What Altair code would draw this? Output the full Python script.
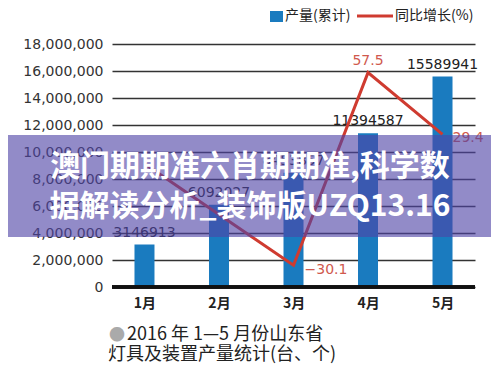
import altair as alt
import pandas as pd

months = ["1月", "2月", "3月", "4月", "5月"]
production = [3146913, 6092027, 8453857, 11394587, 15589941]
production_labels = ["3146913", "6092027", "8453857", "11394587", "15589941"]
growth = [16.0, -7.0, -30.1, 57.5, 29.4]
growth_labels = ["", "", "−30.1", "57.5", "29.4"]
y_ticks = [0, 2000000, 4000000, 6000000, 8000000, 10000000, 12000000, 14000000, 16000000, 18000000]

legend_bar = "产量(累计)"
legend_line = "同比增长(%)"
banner_lines = ["澳门期期准六肖期期准,科学数", "据解读分析_装饰版UZQ13.16"]
footer_bullet = "●"
footer_lines = ["2016 年 1—5 月份山东省", "灯具及装置产量统计(台、个)"]

df = pd.DataFrame({
    "month": months,
    "production": production,
    "plabel": production_labels,
    "growth": growth,
    "glabel": growth_labels,
})

BLUE = "#1a7bbf"
RED = "#cf3b30"
RED_TXT = "#d0594e"
CJK = "Noto Sans CJK SC"
NUM = "DejaVu Sans"

xenc = alt.X(
    "month:N", sort=months,
    scale=alt.Scale(type="point", padding=0.436),
    axis=alt.Axis(title=None, labelFont=CJK, labelFontSize=14, labelColor="#222",
                  labelFontWeight="bold", labelPadding=9, ticks=False, domain=False,
                  labelAngle=0, grid=False),
)
yaxis = alt.Axis(values=y_ticks, labelExpr="format(datum.value, ',')", title=None, grid=True,
                 gridColor="#333", gridWidth=1.6, ticks=False, domain=False, labelFont=NUM,
                 labelFontSize=14, labelColor="#333", labelPadding=9)
yscale = alt.Scale(domain=[0, 18000000], nice=False)
yenc = alt.Y("production:Q", scale=yscale, axis=yaxis)
gscale = alt.Scale(domain=[-40, 70.5], nice=False)

base = alt.Chart(df)

bars = base.mark_bar(size=20, color=BLUE).encode(x=xenc, y=yenc)
zero = base.transform_calculate(production="0").mark_rule(color="#111", strokeWidth=3).encode(y=yenc)
blabels = base.mark_text(baseline="bottom", dy=-5, font=NUM, fontSize=14, color="#222").encode(
    x=xenc, y=yenc, text="plabel:N")
left = alt.layer(bars, zero, blabels)

gy = alt.Y("growth:Q", scale=gscale, axis=None)
line = base.mark_line(color=RED, strokeWidth=3).encode(x=xenc, y=gy)
glab_top = base.transform_filter(alt.datum.month == "4月").mark_text(
    baseline="bottom", dy=-5, font=NUM, fontSize=14, color=RED_TXT).encode(x=xenc, y=gy, text="glabel:N")
glab_low = base.transform_filter(alt.datum.month == "3月").mark_text(
    align="left", baseline="middle", dx=11, dy=5, font=NUM, fontSize=14, color=RED_TXT).encode(x=xenc, y=gy, text="glabel:N")
glab_end = base.transform_filter(alt.datum.month == "5月").mark_text(
    align="left", baseline="middle", dx=10, dy=4, font=NUM, fontSize=14, color=RED_TXT).encode(x=xenc, y=gy, text="glabel:N")
right = alt.layer(line, glab_top, glab_low, glab_end)

one = alt.Chart(pd.DataFrame({"d": [0]}))

banner = one.mark_rect(color="rgb(79,67,167)", opacity=0.62).encode(
    x=alt.value(-112), x2=alt.value(380), y=alt.value(91), y2=alt.value(193))
btext1 = one.mark_text(font=CJK, fontSize=30, fontWeight="bold", color="white",
                       align="center", baseline="middle").encode(
    x=alt.value(138), y=alt.value(123), text=alt.value(banner_lines[0]))
btext2 = one.mark_text(font=CJK, fontSize=30, fontWeight="bold", color="white",
                       align="center", baseline="middle").encode(
    x=alt.value(138), y=alt.value(163), text=alt.value(banner_lines[1]))

leg_sq = one.mark_rect(color=BLUE).encode(
    x=alt.value(158), x2=alt.value(171), y=alt.value(-33), y2=alt.value(-22))
leg_t1 = one.mark_text(font=CJK, fontSize=14, color="#222", align="left", baseline="middle").encode(
    x=alt.value(173), y=alt.value(-28), text=alt.value(legend_bar))
leg_ln = one.mark_rule(color=RED, strokeWidth=3).encode(
    x=alt.value(245), x2=alt.value(281), y=alt.value(-28))
leg_t2 = one.mark_text(font=CJK, fontSize=14, color="#222", align="left", baseline="middle").encode(
    x=alt.value(283), y=alt.value(-28), text=alt.value(legend_line))

foot_b = one.mark_text(font=CJK, fontSize=16, color="#aaaaaa", align="left", baseline="middle").encode(
    x=alt.value(-3), y=alt.value(291), text=alt.value(footer_bullet))
foot_1 = one.mark_text(font=CJK, fontSize=18, color="#222", align="left", baseline="middle").encode(
    x=alt.value(15), y=alt.value(291), text=alt.value(footer_lines[0]))
foot_2 = one.mark_text(font=CJK, fontSize=18, color="#222", align="left", baseline="middle").encode(
    x=alt.value(-4), y=alt.value(311), text=alt.value(footer_lines[1]))

chart = alt.layer(
    left, right, banner, btext1, btext2, leg_sq, leg_t1, leg_ln, leg_t2, foot_b, foot_1, foot_2
).resolve_scale(y="independent").properties(
    width=363, height=243,
    autosize=alt.AutoSizeParams(type="none"),
    padding={"left": 104, "top": 36, "right": 16, "bottom": 78},
    background="white",
).configure_view(stroke=None)

chart.save("out.html", embed_options={"renderer": "svg", "actions": False})
